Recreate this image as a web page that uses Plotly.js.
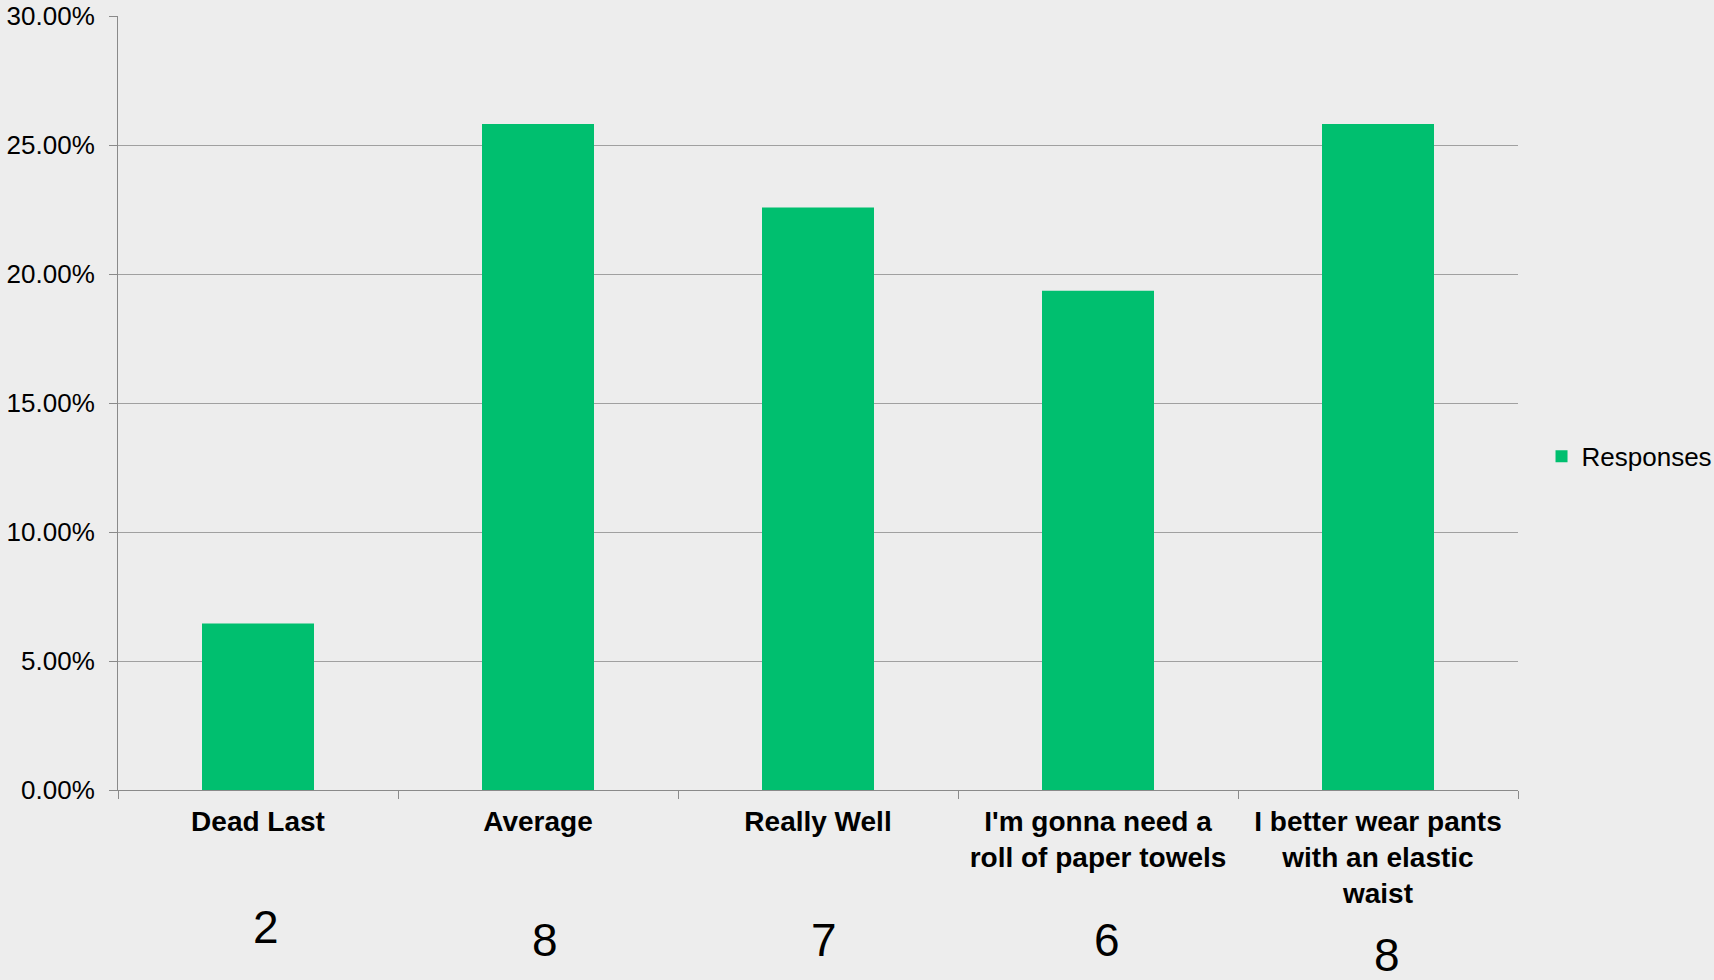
<!DOCTYPE html>
<html>
<head>
<meta charset="utf-8">
<script src="https://cdn.plot.ly/plotly-3.0.1.min.js"></script>
<style>
  html, body { margin: 0; padding: 0; background: #ededed; }
  #chart { width: 1714px; height: 980px; }
</style>
</head>
<body>
<div id="chart"></div>
<script>
// ---- data ----
const categories = [
  'Dead Last',
  'Average',
  'Really Well',
  "I'm gonna need a<br>roll of paper towels",
  'I better wear pants<br>with an elastic<br>waist'
];
const responseShares = [0.0645, 0.2581, 0.2258, 0.1935, 0.2581];
const responseCounts = [2, 8, 7, 6, 8];
const seriesName = 'Responses';
const yTickValues = [0, 0.05, 0.10, 0.15, 0.20, 0.25, 0.30];

// ---- style ----
const FONT = 'Liberation Sans, Arial, sans-serif';
const GREEN = '#00bf6f';
const AXIS = '#8a8a8a';
const GRID = '#a0a0a0';
const countShiftX = [8, 7, 6, 9, 9];
const countShiftY = [-137, -150, -150, -150, -165];

const trace = {
  type: 'bar',
  name: seriesName,
  x: categories,
  y: responseShares,
  marker: { color: GREEN, line: { width: 0 } },
  hoverinfo: 'x+y'
};

const annotations = responseCounts.map((c, i) => ({
  xref: 'x', yref: 'paper',
  x: categories[i], y: 0,
  xanchor: 'center', yanchor: 'middle',
  xshift: countShiftX[i], yshift: countShiftY[i],
  text: String(c),
  showarrow: false,
  font: { family: FONT, size: 46, color: '#000000' }
}));

const layout = {
  width: 1714, height: 980,
  paper_bgcolor: '#ededed',
  plot_bgcolor: '#ededed',
  margin: { l: 118, r: 196, t: 16, b: 190, pad: 0, autoexpand: false },
  bargap: 0.6,
  font: { family: FONT, color: '#000000' },
  xaxis: {
    type: 'category',
    showline: true, linecolor: AXIS, linewidth: 1,
    showgrid: false,
    ticks: 'outside', ticklen: 8, tickcolor: AXIS, tickwidth: 1,
    tickson: 'boundaries',
    tickfont: { family: FONT, size: 28, weight: 'bold', color: '#000000' },
    ticklabelstandoff: 6,
    tickangle: 0,
    automargin: false,
    fixedrange: true
  },
  yaxis: {
    range: [0, 0.30],
    tickvals: yTickValues,
    tickformat: '.2%',
    showline: true, linecolor: AXIS, linewidth: 1,
    showgrid: true, gridcolor: GRID, gridwidth: 1,
    zeroline: false,
    ticks: 'outside', ticklen: 8, tickcolor: AXIS, tickwidth: 1,
    tickfont: { family: FONT, size: 26, color: '#000000' },
    ticklabelstandoff: 9,
    automargin: false,
    fixedrange: true
  },
  showlegend: true,
  legend: {
    x: 1.0168, xanchor: 'left',
    y: 0.431, yanchor: 'middle',
    bgcolor: 'rgba(0,0,0,0)',
    borderwidth: 0,
    font: { family: FONT, size: 26, color: '#000000' }
  },
  annotations: annotations
};

Plotly.newPlot('chart', [trace], layout, { displayModeBar: false, staticPlot: true });
</script>
</body>
</html>
